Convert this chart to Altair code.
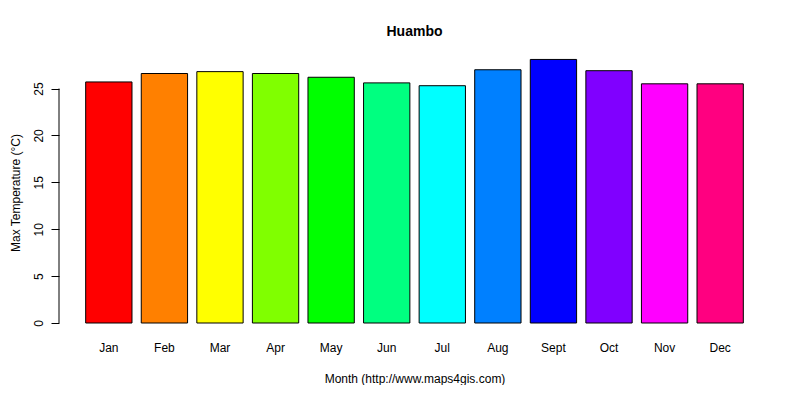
import altair as alt
import pandas as pd

months = ["Jan", "Feb", "Mar", "Apr", "May", "Jun", "Jul", "Aug", "Sept", "Oct", "Nov", "Dec"]
max_temp = [25.7, 26.6, 26.8, 26.6, 26.2, 25.6, 25.3, 27.0, 28.1, 26.9, 25.5, 25.5]
colors = ["#FF0000", "#FF8000", "#FFFF00", "#80FF00", "#00FF00", "#00FF80",
          "#00FFFF", "#0080FF", "#0000FF", "#8000FF", "#FF00FF", "#FF0080"]
y_ticks = [0, 5, 10, 15, 20, 25]

df = pd.DataFrame({"month": months, "temp": max_temp})
FONT = "Liberation Sans"

bars = alt.Chart(df).mark_bar(stroke="black", strokeWidth=1).encode(
    x=alt.X("month:N", sort=months,
            scale=alt.Scale(paddingInner=0.1667, paddingOuter=0.48),
            axis=alt.Axis(title="Month (http://www.maps4gis.com)", labelAngle=0,
                          ticks=False, tickSize=0, domain=False, labelPadding=19,
                          labelFontSize=12, labelFont=FONT, labelColor="black",
                          titleFontSize=12, titleFont=FONT, titleColor="black",
                          titleFontWeight="normal", titleY=55, titleBaseline="middle")),
    y=alt.Y("temp:Q", scale=alt.Scale(domain=[0, 29], nice=False, zero=True),
            axis=alt.Axis(title="Max Temperature (°C)", values=y_ticks, grid=False,
                          domain=False, tickSize=8, tickColor="black",
                          labelAngle=-90, labelAlign="center", labelBaseline="alphabetic",
                          labelPadding=9, labelFontSize=12, labelFont=FONT, labelColor="black",
                          titleFontSize=12, titleFont=FONT, titleColor="black",
                          titleFontWeight="normal", titleAngle=-90, titleX=-44,
                          titleY=141.5, titleAlign="center", titleBaseline="middle")),
    color=alt.Color("month:N", scale=alt.Scale(domain=months, range=colors), legend=None),
)

axis_line = alt.Chart(pd.DataFrame({"a": [0], "b": [25]})).mark_rule(
    color="black", strokeWidth=1).encode(
    y=alt.Y("a:Q"), y2="b:Q", x=alt.value(0))

chart = alt.layer(bars, axis_line).properties(
    width=711, height=272,
    title=alt.TitleParams("Huambo", fontSize=14, fontWeight="bold", font=FONT,
                          color="black", anchor="middle", baseline="alphabetic", offset=1),
    autosize=alt.AutoSizeParams(type="none"),
    padding={"left": 51, "top": 43, "right": 20, "bottom": 62},
).configure_view(stroke=None)

chart.save("out.html", embed_options={"renderer": "svg", "actions": False})
